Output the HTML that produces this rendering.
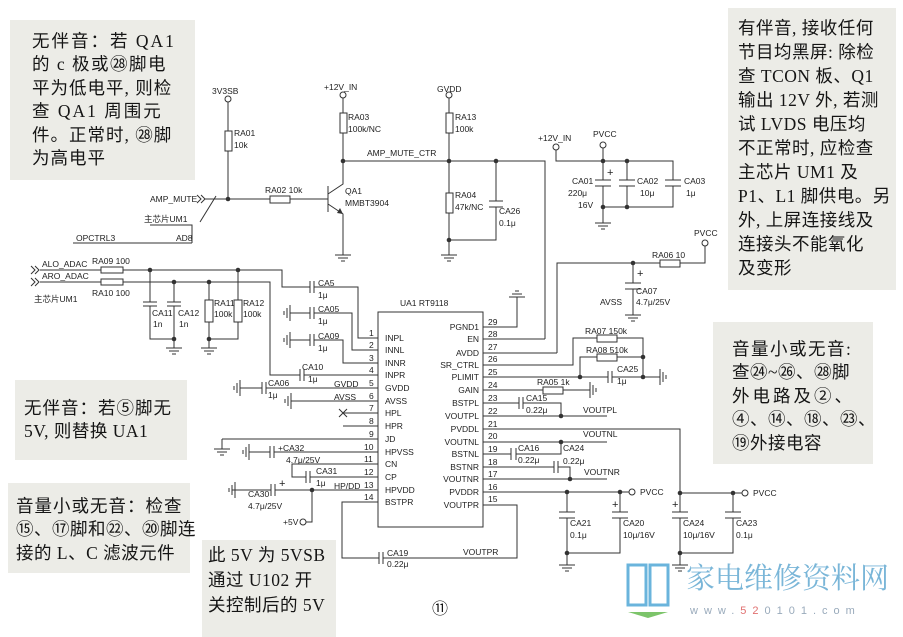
<!DOCTYPE html>
<html><head><meta charset="utf-8"><style>
html,body{margin:0;padding:0;background:#fff}
svg{display:block}
.t{font-family:"Liberation Sans","Noto Sans CJK SC",sans-serif;font-size:8.5px;fill:#222}
.c{font-family:"Liberation Serif","Noto Sans CJK SC",serif;font-size:17.5px;fill:#151515;letter-spacing:0.5px}
.w{stroke:#333;stroke-width:1;fill:none}
.r{stroke:#333;stroke-width:1;fill:#fff}
</style></head><body>
<svg width="903" height="637" viewBox="0 0 903 637" xmlns="http://www.w3.org/2000/svg">
<defs>
<g id="g"><path class="w" d="M0,0v5M-8,5h16M-5,8h10M-2,11h4"/></g>
<g id="gu"><path class="w" d="M0,0v-5M-8,-5h16M-5,-8h10M-2,-11h4"/></g>
<g id="gl"><path class="w" d="M0,0h-5M-5,-8v16M-8,-5v10M-11,-2v4"/></g>
<g id="gr"><path class="w" d="M0,0h5M5,-8v16M8,-5v10M11,-2v4"/></g>
<g id="ch"><path class="w" d="M0,-4l4,4l-4,4M4,-4l4,4l-4,4"/></g>
<circle id="d" r="2.3" fill="#333"/>
<circle id="o" r="3" fill="#fff" stroke="#333"/>
</defs>
<rect width="903" height="637" fill="#fff"/>
<rect x="10" y="20" width="185" height="160" fill="#ecece7"/>
<rect x="728" y="8" width="168" height="282" fill="#ecece7"/>
<rect x="713" y="322" width="160" height="142" fill="#ecece7"/>
<rect x="15" y="380" width="172" height="80" fill="#ecece7"/>
<rect x="8" y="483" width="182" height="90" fill="#ecece7"/>
<rect x="202" y="540" width="134" height="97" fill="#ecece7"/>
<g class="c">
<text x="32" y="47" letter-spacing="2">无伴音：若 QA1</text>
<text x="32" y="70" letter-spacing="1.5">的 c 极或㉘脚电</text>
<text x="32" y="94" letter-spacing="1">平为低电平, 则检</text>
<text x="32" y="117" letter-spacing="2">查 QA1 周围元</text>
<text x="32" y="141" letter-spacing="1">件。正常时, ㉘脚</text>
<text x="32" y="164" letter-spacing="1">为高电平</text>
<text x="738" y="34">有伴音, 接收任何</text>
<text x="738" y="58">节目均黑屏: 除检</text>
<text x="738" y="82">查 TCON 板、Q1</text>
<text x="738" y="106">输出 12V 外, 若测</text>
<text x="738" y="130">试 LVDS 电压均</text>
<text x="738" y="154">不正常时, 应检查</text>
<text x="738" y="178">主芯片 UM1 及</text>
<text x="738" y="202">P1、L1 脚供电。另</text>
<text x="738" y="226">外, 上屏连接线及</text>
<text x="738" y="250">连接头不能氧化</text>
<text x="738" y="274">及变形</text>
<text x="732" y="355" letter-spacing="1.5">音量小或无音:</text>
<text x="732" y="378">查㉔~㉖、㉘脚</text>
<text x="732" y="402" letter-spacing="3">外电路及②、</text>
<text x="732" y="425">④、⑭、⑱、㉓、</text>
<text x="732" y="449">⑲外接电容</text>
<text x="24" y="414" letter-spacing="1">无伴音：若⑤脚无</text>
<text x="24" y="437">5V, 则替换 UA1</text>
<text x="16" y="512" letter-spacing="1">音量小或无音：检查</text>
<text x="16" y="535">⑮、⑰脚和㉒、⑳脚连</text>
<text x="16" y="559">接的 L、C 滤波元件</text>
<text x="208" y="561">此 5V 为 5VSB</text>
<text x="208" y="586">通过 U102 开</text>
<text x="208" y="611">关控制后的 5V</text>
<text x="432" y="614" font-size="16">⑪</text>
</g>
<path d="M628,565h18v40h-18zM650,565h18v40h-18z" fill="none" stroke="#6ab4dc" stroke-width="3"/>
<path d="M628,612h40l-20,6z" fill="#7cc46a"/>
<text x="686" y="588" font-family="Liberation Serif,'Noto Serif CJK SC',serif" font-size="29" fill="#7ab6d8">家电维修资料网</text>
<text x="690" y="614" font-family="Liberation Sans,sans-serif" font-size="11" fill="#9ab" letter-spacing="6">www.<tspan fill="#e07070">52</tspan>0101.com</text>

<g>
<use href="#o" x="228" y="99"/>
<path class="w" d="M228,102V199M205,199H270M290,199H328M328,186V212M328,194L343,184V161M328,204L343,214V250M343,97V161M343,161H545V339M449,96V250M449,161H496V201M496,207V240H449"/>
<path class="w" d="M216,196L200,222M150,225H192V243M73,243H192"/>
<path class="w" d="M489,201h14M489,207h14"/>
<path d="M343,214l-6,-1l3,-5z" fill="#333"/>
<rect class="r" x="225" y="131" width="7" height="20"/>
<rect class="r" x="270" y="196" width="20" height="7"/>
<rect class="r" x="340" y="113" width="7" height="20"/>
<rect class="r" x="446" y="113" width="7" height="20"/>
<rect class="r" x="446" y="193" width="7" height="20"/>
<use href="#o" x="343" y="95"/><use href="#o" x="449" y="95"/>
<use href="#d" x="228" y="199"/><use href="#d" x="343" y="161"/><use href="#d" x="449" y="161"/><use href="#d" x="496" y="161"/><use href="#d" x="449" y="240"/>
<use href="#g" x="343" y="250"/><use href="#g" x="449" y="250"/>
<use href="#ch" x="197" y="199"/>
</g>
<g class="t">
<text x="212" y="94">3V3SB</text><text x="234" y="136">RA01</text><text x="234" y="148">10k</text>
<text x="150" y="202">AMP_MUTE</text><text x="265" y="193">RA02 10k</text>
<text x="144" y="222">主芯片UM1</text><text x="76" y="241">OPCTRL3</text><text x="176" y="241">AD8</text>
<text x="345" y="194">QA1</text><text x="345" y="206">MMBT3904</text>
<text x="324" y="90">+12V_IN</text><text x="348" y="120">RA03</text><text x="348" y="132">100k/NC</text>
<text x="367" y="156">AMP_MUTE_CTR</text>
<text x="437" y="92">GVDD</text><text x="455" y="120">RA13</text><text x="455" y="132">100k</text>
<text x="455" y="198">RA04</text><text x="455" y="210">47k/NC</text>
<text x="499" y="214">CA26</text><text x="499" y="226">0.1μ</text>
</g>

<g>
<use href="#o" x="556" y="147"/><use href="#o" x="603" y="145"/>
<path class="w" d="M556,150V161H673V180M673,186V207H603M603,148V180M603,186V220M627,161V180M627,186V207"/>
<path class="w" d="M595,180h16M595,186h16M619,180h16M619,186h16M665,180h16M665,186h16"/>
<use href="#d" x="603" y="161"/><use href="#d" x="627" y="161"/><use href="#d" x="603" y="207"/><use href="#d" x="627" y="207"/>
<use href="#g" x="603" y="218"/>
<path class="w" d="M557,353V263H660M680,263H705V246M633,263V283M633,289V312"/>
<path class="w" d="M625,283h16M625,289h16"/>
<rect class="r" x="660" y="260" width="20" height="7"/>
<use href="#o" x="705" y="243"/><use href="#d" x="633" y="263"/><use href="#g" x="633" y="310"/>
</g>
<g class="t">
<text x="538" y="141">+12V_IN</text><text x="593" y="137">PVCC</text>
<text x="607" y="176" font-size="11">+</text>
<text x="572" y="184">CA01</text><text x="568" y="196">220μ</text><text x="578" y="208">16V</text>
<text x="637" y="184">CA02</text><text x="640" y="196">10μ</text>
<text x="684" y="184">CA03</text><text x="686" y="196">1μ</text>
<text x="652" y="258">RA06 10</text><text x="694" y="236">PVCC</text>
<text x="637" y="277" font-size="11">+</text>
<text x="636" y="294">CA07</text><text x="636" y="305">4.7μ/25V</text><text x="600" y="305">AVSS</text>
</g>

<g>
<use href="#ch" x="31" y="270"/><use href="#ch" x="31" y="282"/>
<path class="w" d="M40,270H101M123,270H282V287H310M314,287H358V338H378M40,282H101M123,282H270V375H300M304,375H378"/>
<rect class="r" x="101" y="267" width="22" height="6"/>
<rect class="r" x="101" y="279" width="22" height="6"/>
<path class="w" d="M150,270V302M174,282V302M143,302h14M143,306h14M167,302h14M167,306h14M150,306V339H174V306M174,339V343M209,282V300M238,270V300M209,322V343M238,322V339H209"/>
<rect class="r" x="205" y="300" width="8" height="22"/>
<rect class="r" x="234" y="300" width="8" height="22"/>
<use href="#d" x="150" y="270"/><use href="#d" x="238" y="270"/><use href="#d" x="174" y="282"/><use href="#d" x="209" y="282"/><use href="#d" x="174" y="339"/><use href="#d" x="209" y="339"/>
<use href="#g" x="174" y="343"/><use href="#g" x="209" y="343"/>
<path class="w" d="M310,281v12M314,281v12"/>
</g>
<g class="t">
<text x="42" y="267">ALO_ADAC</text><text x="42" y="279">ARO_ADAC</text><text x="34" y="302">主芯片UM1</text>
<text x="92" y="264">RA09  100</text><text x="92" y="296">RA10  100</text>
<text x="152" y="316">CA11</text><text x="153" y="327">1n</text><text x="178" y="316">CA12</text><text x="179" y="327">1n</text>
<text x="214" y="306">RA11</text><text x="214" y="317">100k</text><text x="243" y="306">RA12</text><text x="243" y="317">100k</text>
<text x="318" y="286">CA5</text><text x="318" y="298">1μ</text>
</g>

<rect class="r" x="378" y="312" width="105" height="215"/>
<text class="t" x="400" y="306">UA1  RT9118</text>
<g class="t">
<text x="385" y="341">INPL</text><text x="385" y="353">INNL</text><text x="385" y="366">INNR</text><text x="385" y="378">INPR</text>
<text x="385" y="391">GVDD</text><text x="385" y="404">AVSS</text><text x="385" y="416">HPL</text><text x="385" y="429">HPR</text>
<text x="385" y="442">JD</text><text x="385" y="455">HPVSS</text><text x="385" y="467">CN</text><text x="385" y="480">CP</text>
<text x="385" y="493">HPVDD</text><text x="385" y="505">BSTPR</text>
<text x="369" y="336">1</text><text x="369" y="348">2</text><text x="369" y="361">3</text><text x="369" y="373">4</text>
<text x="369" y="386">5</text><text x="369" y="399">6</text><text x="369" y="411">7</text><text x="369" y="424">8</text>
<text x="369" y="437">9</text><text x="364" y="450">10</text><text x="364" y="462">11</text><text x="364" y="475">12</text>
<text x="364" y="488">13</text><text x="364" y="500">14</text>
</g>
<g class="t" text-anchor="end">
<text x="479" y="330">PGND1</text><text x="479" y="342">EN</text><text x="479" y="356">AVDD</text><text x="479" y="368">SR_CTRL</text>
<text x="479" y="380">PLIMIT</text><text x="479" y="393">GAIN</text><text x="479" y="406">BSTPL</text><text x="479" y="419">VOUTPL</text>
<text x="479" y="432">PVDDL</text><text x="479" y="445">VOUTNL</text><text x="479" y="457">BSTNL</text><text x="479" y="470">BSTNR</text>
<text x="479" y="482">VOUTNR</text><text x="479" y="495">PVDDR</text><text x="479" y="508">VOUTPR</text>
</g>
<g class="t">
<text x="488" y="325">29</text><text x="488" y="337">28</text><text x="488" y="350">27</text><text x="488" y="362">26</text>
<text x="488" y="375">25</text><text x="488" y="388">24</text><text x="488" y="401">23</text><text x="488" y="414">22</text>
<text x="488" y="427">21</text><text x="488" y="439">20</text><text x="488" y="452">19</text><text x="488" y="465">18</text>
<text x="488" y="477">17</text><text x="488" y="490">16</text><text x="488" y="502">15</text>
</g>

<g>
<path class="w" d="M290,313H310M314,313H352V350H378M290,340H310M314,340H343V363H378"/>
<path class="w" d="M310,307v12M314,307v12M310,334v12M314,334v12M300,369v12M304,369v12"/>
<use href="#gl" x="295" y="313"/><use href="#gl" x="295" y="340"/>
<path class="w" d="M240,388H262M266,388H378M262,382v12M266,382v12"/><use href="#gl" x="245" y="388"/>
<path class="w" d="M296,401H378"/><use href="#gl" x="296" y="401"/>
<path class="w" d="M343,413H378M339,409l8,8M347,409l-8,8M343,426H378"/>
<path class="w" d="M222,439H378M222,439V446"/><use href="#g" x="222" y="444"/>
<path class="w" d="M250,452H270M274,452H378M270,446v12M274,446v12"/><use href="#gl" x="254" y="452"/>
<path class="w" d="M378,464H292V477H306M310,477H378M306,471v12M310,471v12"/>
<path class="w" d="M232,490H271M275,490H378M271,484v12M275,484v12M312,490V522H306"/>
<use href="#gl" x="240" y="490"/><use href="#d" x="312" y="490"/><use href="#o" x="303" y="522"/>
<path class="w" d="M378,502H342V558H379M383,558H517V505H483M379,552v12M383,552v12"/>
</g>
<g class="t">
<text x="318" y="312">CA05</text><text x="318" y="324">1μ</text>
<text x="318" y="339">CA09</text><text x="318" y="351">1μ</text>
<text x="302" y="370">CA10</text><text x="308" y="382">1μ</text>
<text x="268" y="386">CA06</text><text x="268" y="398">1μ</text>
<text x="334" y="387">GVDD</text><text x="334" y="400">AVSS</text>
<text x="278" y="451">+CA32</text><text x="286" y="463">4.7μ/25V</text>
<text x="316" y="474">CA31</text><text x="316" y="486">1μ</text><text x="334" y="489">HP/DD</text>
<text x="279" y="487" font-size="11">+</text>
<text x="248" y="497">CA30</text><text x="248" y="509">4.7μ/25V</text>
<text x="283" y="525">+5V</text>
<text x="387" y="556">CA19</text><text x="387" y="567">0.22μ</text><text x="463" y="555">VOUTPR</text>
</g>

<g>
<path class="w" d="M483,327H517V300"/><use href="#gu" x="517" y="302"/>
<path class="w" d="M483,339H545M483,353H557"/>
<path class="w" d="M483,365H573V338H597M617,338H643V377M580,377V357H597M617,357H643"/>
<rect class="r" x="597" y="335" width="20" height="7"/><rect class="r" x="597" y="354" width="20" height="7"/>
<path class="w" d="M483,377H608M612,377H660M608,371v12M612,371v12"/>
<use href="#d" x="580" y="377"/><use href="#d" x="643" y="357"/><use href="#d" x="643" y="377"/><use href="#gr" x="655" y="377"/>
<path class="w" d="M483,390H543M563,390H585"/><rect class="r" x="543" y="387" width="20" height="7"/><use href="#gr" x="585" y="390"/>
<path class="w" d="M483,403H519M523,403H561V416M519,397v12M523,397v12M483,416H607"/><use href="#d" x="561" y="416"/>
<path class="w" d="M483,429H680V493"/>
<path class="w" d="M483,442H607M483,454H511M516,454H561V442M511,448v12M516,448v12"/><use href="#d" x="561" y="442"/>
<path class="w" d="M483,467H554M558,467H570V479M554,461v12M558,461v12M483,479H607"/><use href="#d" x="570" y="479"/>
<path class="w" d="M483,492H629M567,492V512M567,518V553H620V518M620,492V512"/>
<path class="w" d="M559,512h16M559,518h16M612,512h16M612,518h16"/>
<use href="#d" x="567" y="492"/><use href="#d" x="620" y="492"/><use href="#o" x="632" y="492"/><use href="#d" x="567" y="553"/><use href="#g" x="567" y="560"/>
<path class="w" d="M567,553V560"/>
<path class="w" d="M680,493H742M680,493V512M680,518V553H733V518M733,493V512M672,512h16M672,518h16M725,512h16M725,518h16"/>
<use href="#d" x="680" y="493"/><use href="#d" x="733" y="493"/><use href="#o" x="745" y="493"/><use href="#d" x="680" y="553"/>
<path class="w" d="M680,553V560"/><use href="#g" x="680" y="560"/>
</g>
<g class="t">
<text x="585" y="334">RA07  150k</text><text x="586" y="353">RA08  510k</text>
<text x="617" y="372">CA25</text><text x="617" y="384">1μ</text>
<text x="537" y="385">RA05  1k</text>
<text x="526" y="401">CA15</text><text x="526" y="413">0.22μ</text><text x="583" y="413">VOUTPL</text>
<text x="583" y="437">VOUTNL</text>
<text x="518" y="451">CA16</text><text x="518" y="463">0.22μ</text>
<text x="563" y="451">CA24</text><text x="563" y="464">0.22μ</text><text x="584" y="475">VOUTNR</text>
<text x="640" y="495">PVCC</text><text x="753" y="496">PVCC</text>
<text x="612" y="508" font-size="11">+</text><text x="672" y="508" font-size="11">+</text>
<text x="570" y="526">CA21</text><text x="570" y="538">0.1μ</text>
<text x="623" y="526">CA20</text><text x="623" y="538">10μ/16V</text>
<text x="683" y="526">CA24</text><text x="683" y="538">10μ/16V</text>
<text x="736" y="526">CA23</text><text x="736" y="538">0.1μ</text>
</g>
</svg>
</body></html>
